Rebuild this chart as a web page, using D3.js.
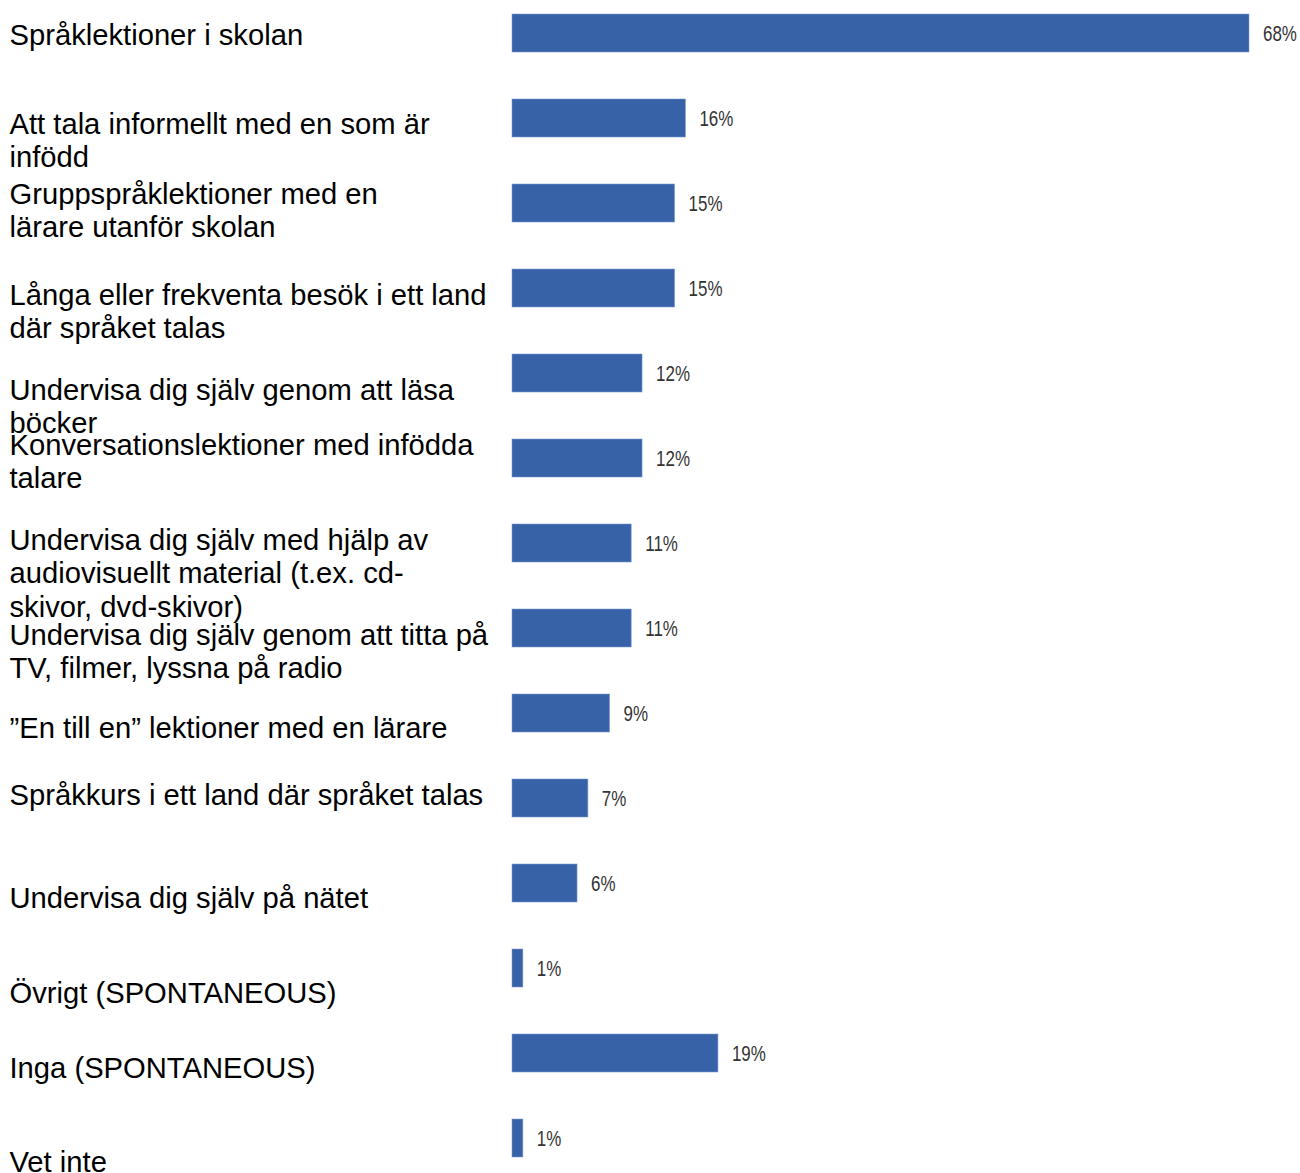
<!DOCTYPE html>
<html>
<head>
<meta charset="utf-8">
<script src="https://cdn.jsdelivr.net/npm/d3@7"></script>
<style>
  html, body { margin: 0; padding: 0; background: #ffffff; }
  svg { display: block; }
</style>
</head>
<body>
<svg id="chart" width="1300" height="1173"></svg>
<script>
// Answer categories (order as shown, top to bottom)
const categories = [
  "Språklektioner i skolan",
  "Att tala informellt med en som är infödd",
  "Gruppspråklektioner med en lärare utanför skolan",
  "Långa eller frekventa besök i ett land där språket talas",
  "Undervisa dig själv genom att läsa böcker",
  "Konversationslektioner med infödda talare",
  "Undervisa dig själv med hjälp av audiovisuellt material (t.ex. cd-skivor, dvd-skivor)",
  "Undervisa dig själv genom att titta på TV, filmer, lyssna på radio",
  "”En till en” lektioner med en lärare",
  "Språkkurs i ett land där språket talas",
  "Undervisa dig själv på nätet",
  "Övrigt (SPONTANEOUS)",
  "Inga (SPONTANEOUS)",
  "Vet inte"
];

// Share of respondents, in percent
const values = [68, 16, 15, 15, 12, 12, 11, 11, 9, 7, 6, 1, 19, 1];

// Category label text, broken into lines
const tickLabelLines = [
  ["Språklektioner i skolan"],
  ["Att tala informellt med en som är", "infödd"],
  ["Gruppspråklektioner med en", "lärare utanför skolan"],
  ["Långa eller frekventa besök i ett land", "där språket talas"],
  ["Undervisa dig själv genom att läsa", "böcker"],
  ["Konversationslektioner med infödda", "talare"],
  ["Undervisa dig själv med hjälp av", "audiovisuellt material (t.ex. cd-", "skivor, dvd-skivor)"],
  ["Undervisa dig själv genom att titta på", "TV, filmer, lyssna på radio"],
  ["”En till en” lektioner med en lärare"],
  ["Språkkurs i ett land där språket talas"],
  ["Undervisa dig själv på nätet"],
  ["Övrigt (SPONTANEOUS)"],
  ["Inga (SPONTANEOUS)"],
  ["Vet inte"]
];

// Vertical shift of each label's first baseline from its bar's centre (px)
const labelBaselineShift = [12, 16, 1, 17, 27, -3, 7, 17, 25, 7, 25, 35, 25, 34];

const svg = d3.select("#chart");

const barColor = "#3762a8";
const barLeft = 512;
const barRight = 1249;
const step = 85;
const barH = 38;
const firstBarTop = 14;

const pInner = (step - barH) / step;
const y = d3.scaleBand()
  .domain(categories)
  .range([firstBarTop - (step - barH) / 2, firstBarTop - (step - barH) / 2 + step * categories.length])
  .paddingInner(pInner)
  .paddingOuter(pInner / 2);

const x = d3.scaleLinear()
  .domain([0, d3.max(values)])
  .range([barLeft, barRight]);

const data = categories.map((c, i) => ({ cat: c, value: values[i], lines: tickLabelLines[i], shift: labelBaselineShift[i] }));

// Bars
svg.append("g")
  .selectAll("rect")
  .data(data)
  .join("rect")
  .attr("x", x(0))
  .attr("y", d => y(d.cat))
  .attr("width", d => x(d.value) - x(0))
  .attr("height", y.bandwidth())
  .attr("fill", barColor)
  .attr("stroke", "#7d9bd0")
  .attr("stroke-width", 0.8)
  .attr("stroke-opacity", 0.7);

// Value labels, in a condensed face (horizontally compressed sans)
svg.append("g")
  .selectAll("text")
  .data(data)
  .join("text")
  .attr("transform", d => `translate(${x(d.value) + 14},${y(d.cat) + y.bandwidth() / 2 + 8}) scale(0.77,1)`)
  .attr("font-family", "'Liberation Sans', Arial, sans-serif")
  .attr("font-size", 22)
  .attr("fill", "#333333")
  .text(d => d.value + "%");

// Category labels
const lineH = 33.4;
const labels = svg.append("g")
  .attr("font-family", "'Liberation Sans', Arial, sans-serif")
  .attr("font-size", 29.2)
  .attr("fill", "#000000");

labels.selectAll("text")
  .data(data)
  .join("text")
  .attr("x", 9.5)
  .attr("y", d => y(d.cat) + y.bandwidth() / 2 + d.shift)
  .each(function (d) {
    const t = d3.select(this);
    d.lines.forEach((ln, j) => {
      t.append("tspan")
        .attr("x", 9.5)
        .attr("dy", j === 0 ? 0 : lineH)
        .text(ln);
    });
  });
</script>
</body>
</html>
